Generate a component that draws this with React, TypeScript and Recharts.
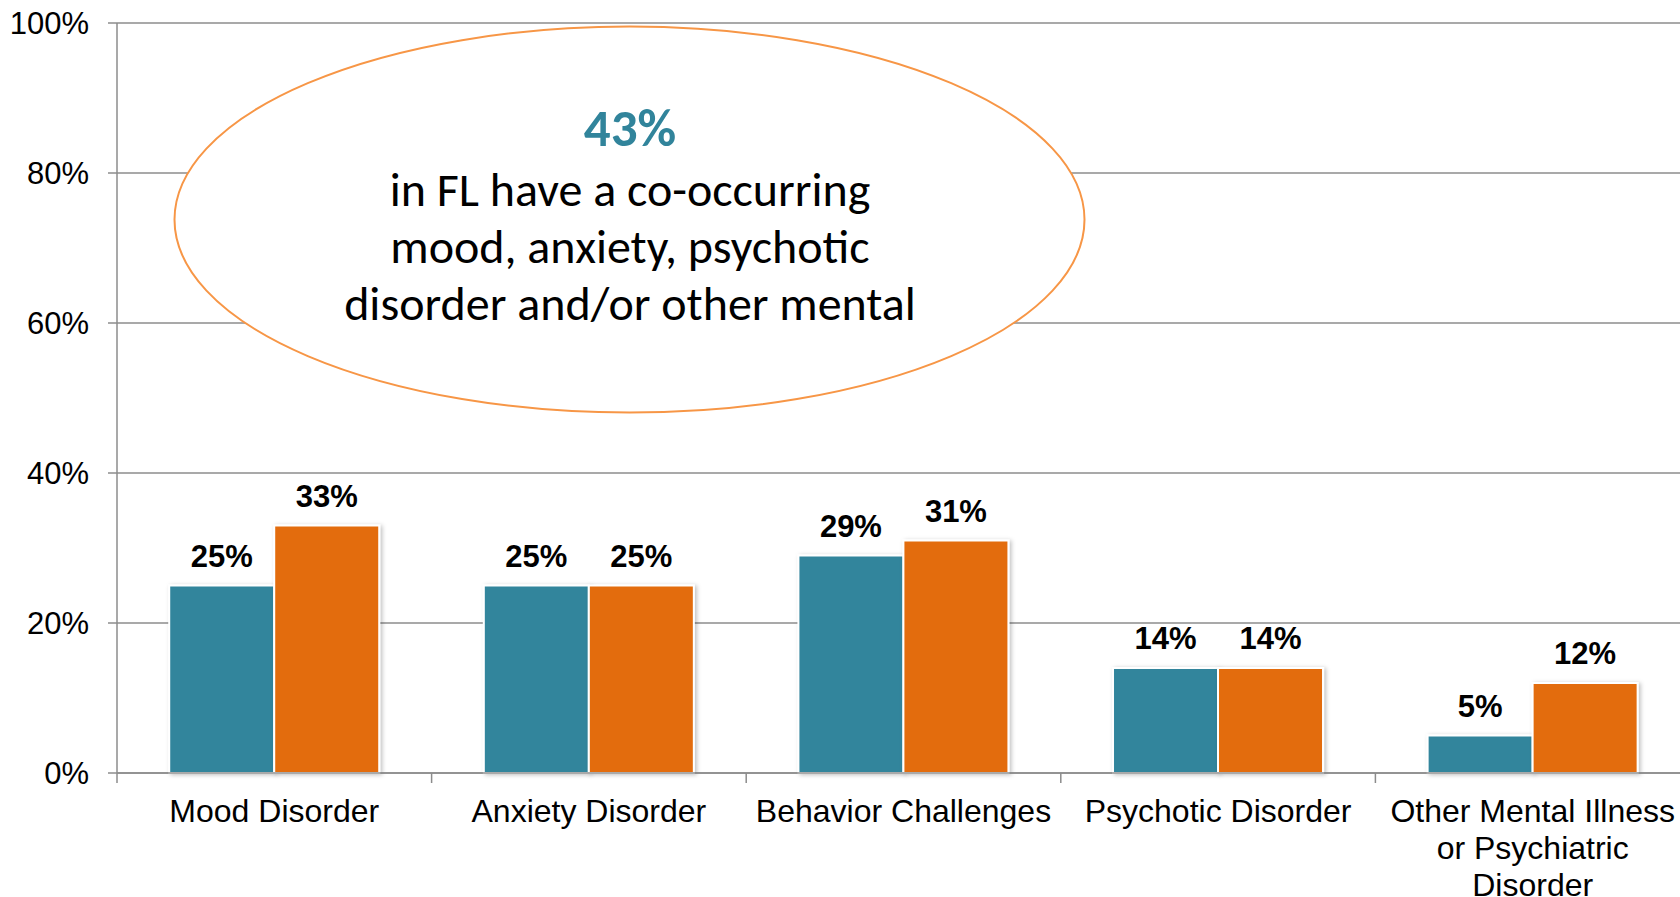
import React from "react";
import {
  BarChart,
  Bar,
  XAxis,
  YAxis,
  CartesianGrid,
  LabelList,
} from "recharts";

const categories = [
  "Mood Disorder",
  "Anxiety Disorder",
  "Behavior Challenges",
  "Psychotic Disorder",
  "Other Mental Illness or Psychiatric Disorder",
];
const flValues = [25, 25, 29, 14, 5];
const comparisonValues = [33, 25, 31, 14, 12];
const yTicks = [0, 20, 40, 60, 80, 100];

const calloutValue = "43%";
const calloutLines = [
  "in FL have a co-occurring",
  "mood, anxiety, psychotic",
  "disorder and/or other mental",
];

const data = categories.map((name, i) => ({
  name,
  fl: flValues[i],
  comparison: comparisonValues[i],
}));

const FONT = "'Liberation Sans', Arial, sans-serif";
const CALLOUT_FONT = "Carlito, Lato, sans-serif";
const GRID = "#8c8c8c";
const TEAL = "#31859C";
const ORANGE = "#E36C0A";

const CHART_W = 1700;
const CHART_H = 897;
const Y_W = 117;
const RIGHT = 10;
const halfBand = (CHART_W - Y_W - RIGHT) / categories.length / 2;

// word wrap using canvas text metrics
let ctx: CanvasRenderingContext2D | null = null;
const wrap = (text: string, maxWidth: number, font: string) => {
  if (!ctx) ctx = document.createElement("canvas").getContext("2d");
  if (!ctx) return [text];
  ctx.font = font;
  const words = text.split(" ");
  const lines: string[] = [];
  let cur = "";
  words.forEach((w) => {
    const test = cur ? cur + " " + w : w;
    if (cur && ctx!.measureText(test).width > maxWidth) {
      lines.push(cur);
      cur = w;
    } else {
      cur = test;
    }
  });
  if (cur) lines.push(cur);
  return lines;
};

const CategoryTick = (props: any) => {
  const { x, y, payload } = props;
  const half = payload && payload.offset ? payload.offset : halfBand;
  const lines = wrap(String(payload.value), 300, `32px ${FONT}`);
  return (
    <g>
      <line x1={x - half} x2={x - half} y1={y} y2={y + 10} stroke={GRID} strokeWidth={1.5} />
      <text textAnchor="middle" fill="#000" fontSize={32} fontFamily={FONT}>
        {lines.map((l, i) => (
          <tspan key={i} x={x} y={y + 49 + i * 37}>
            {l}
          </tspan>
        ))}
      </text>
    </g>
  );
};

const pct = (v: any) => `${v}%`;

export default function App() {
  return (
    <div
      style={{
        position: "fixed",
        left: 0,
        top: 0,
        width: 1680,
        height: 897,
        overflow: "hidden",
        background: "#fff",
      }}
    >
      <BarChart
        width={CHART_W}
        height={CHART_H}
        data={data}
        margin={{ top: 23, right: RIGHT, left: 0, bottom: 0 }}
        barCategoryGap="16.6%"
        barGap={0}
      >
        <defs>
          <filter id="barShadow" x="-10%" y="-10%" width="130%" height="130%">
            <feDropShadow dx="2" dy="1" stdDeviation="2" floodColor="#000" floodOpacity="0.25" />
          </filter>
        </defs>
        <CartesianGrid vertical={false} stroke={GRID} strokeWidth={1.5} />
        <XAxis
          dataKey="name"
          height={124}
          tickLine={false}
          tickSize={0}
          tickMargin={0}
          axisLine={{ stroke: GRID, strokeWidth: 1.5 }}
          interval={0}
          tick={<CategoryTick />}
        />
        <YAxis
          width={Y_W}
          domain={[0, 100]}
          ticks={yTicks}
          tickFormatter={pct}
          tickSize={9}
          tickMargin={19}
          axisLine={{ stroke: GRID, strokeWidth: 1.5 }}
          tickLine={{ stroke: GRID, strokeWidth: 1.5 }}
          tick={{ fill: "#000", fontSize: 31, fontFamily: FONT }}
        />
        <Bar
          dataKey="fl"
          fill={TEAL}
          stroke="#fff"
          strokeWidth={2}
          filter="url(#barShadow)"
          isAnimationActive={false}
        >
          <LabelList
            dataKey="fl"
            position="top"
            offset={19}
            formatter={pct}
            fill="#000"
            fontSize={31}
            fontWeight="bold"
            fontFamily={FONT}
          />
        </Bar>
        <Bar
          dataKey="comparison"
          fill={ORANGE}
          stroke="#fff"
          strokeWidth={2}
          filter="url(#barShadow)"
          isAnimationActive={false}
        >
          <LabelList
            dataKey="comparison"
            position="top"
            offset={19}
            formatter={pct}
            fill="#000"
            fontSize={31}
            fontWeight="bold"
            fontFamily={FONT}
          />
        </Bar>
      </BarChart>
      <svg
        width={1680}
        height={897}
        style={{ position: "absolute", left: 0, top: 0, pointerEvents: "none" }}
      >
        <ellipse cx={629.5} cy={219.6} rx={455} ry={193} fill="#fff" stroke="#F79646" strokeWidth={2} />
        <text
          x={630}
          y={145.7}
          textAnchor="middle"
          fill="#31849B"
          fontSize={53}
          fontWeight="bold"
          fontFamily={CALLOUT_FONT}
        >
          {calloutValue}
        </text>
        {calloutLines.map((line, i) => (
          <text
            key={line}
            x={630}
            y={205.7 + i * 57.2}
            textAnchor="middle"
            fill="#000"
            fontSize={48}
            fontFamily={CALLOUT_FONT}
          >
            {line}
          </text>
        ))}
      </svg>
    </div>
  );
}
